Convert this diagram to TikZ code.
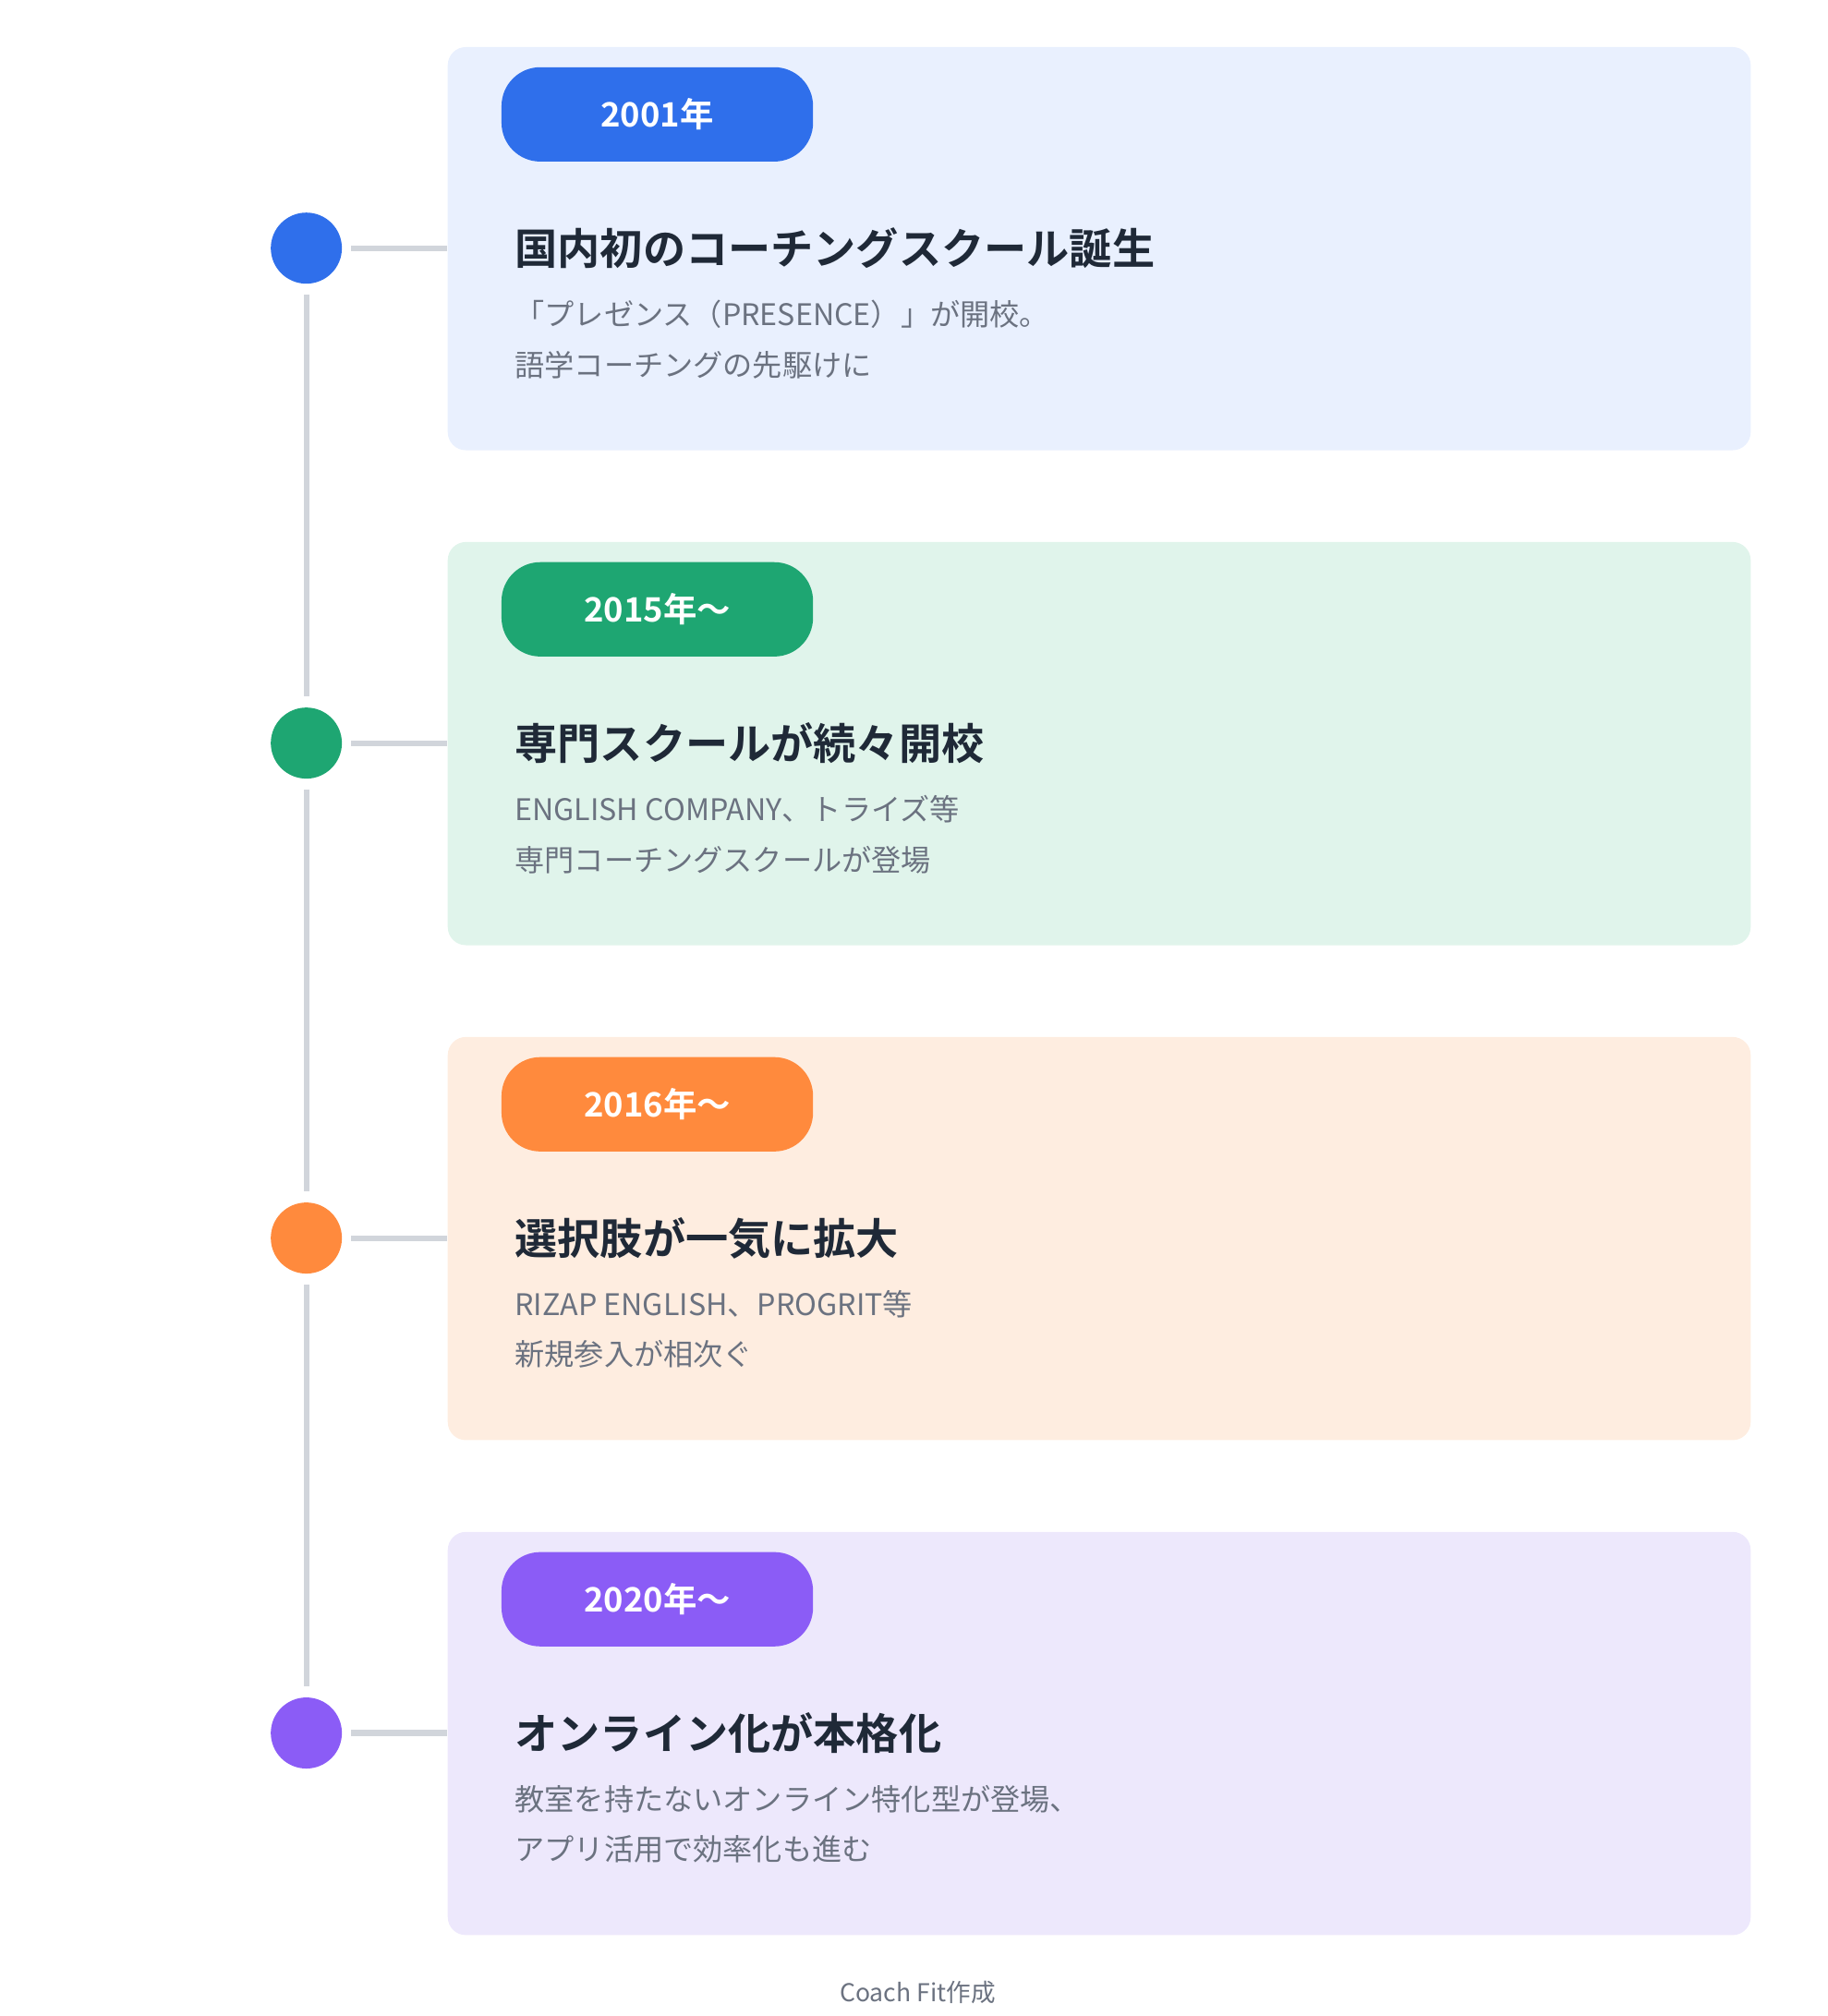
\documentclass[tikz,border=0pt]{standalone}
\usepackage{fontspec}
\setmainfont{Noto Sans CJK JP}[BoldFont={* Bold}]
\usetikzlibrary{positioning}
\definecolor{lineg}{HTML}{D1D5DB}
\definecolor{titlec}{HTML}{1F2937}
\definecolor{descc}{HTML}{6B7280}
\definecolor{cA}{HTML}{2F6FEB}\definecolor{bA}{HTML}{E9F0FE}
\definecolor{cB}{HTML}{1EA672}\definecolor{bB}{HTML}{E0F4EB}
\definecolor{cC}{HTML}{FF8A3D}\definecolor{bC}{HTML}{FEEDE0}
\definecolor{cD}{HTML}{8B5CF6}\definecolor{bD}{HTML}{EDE8FC}
\tikzset{
  card/.style={rounded corners=7pt, minimum width=504pt, minimum height=156pt, inner sep=0pt, anchor=north west},
  pill/.style={rounded corners=15pt, minimum width=120.5pt, minimum height=36.5pt, inner sep=0pt, text=white, font=\bfseries\fontsize{13}{15}\selectfont},
  dot/.style={circle, minimum size=27.5pt, inner sep=0pt},
  ttl/.style={anchor=west, inner sep=0pt, text=titlec, font=\bfseries\fontsize{16.5}{20}\selectfont},
  desc/.style={anchor=north west, inner sep=0pt, align=left, text=descc, font=\fontsize{11.5}{19.5}\selectfont},
  link/.style={lineg, line width=2.2pt}
}
\begin{document}
\begin{tikzpicture}[x=0.5pt, y=-0.5pt]
\useasboundingbox (0,0) rectangle (1414,1560);
\foreach \i/\c/\b/\yr/\t/\da/\db in {
  0/cA/bA/2001年/国内初のコーチングスクール誕生/「プレゼンス（PRESENCE）」が開校。/語学コーチングの先駆けに,
  1/cB/bB/2015年〜/専門スクールが続々開校/ENGLISH COMPANY、トライズ等/専門コーチングスクールが登場,
  2/cC/bC/2016年〜/選択肢が一気に拡大/RIZAP ENGLISH、PROGRIT等/新規参入が相次ぐ,
  3/cD/bD/2020年〜/オンライン化が本格化/教室を持たないオンライン特化型が登場、/アプリ活用で効率化も進む}{
  \pgfmathsetmacro{\y}{383*\i}
  \node[card, fill=\b] (card\i) at (346,36+\y) {};
  \node[pill, fill=\c] (pill\i) at (508.5,88.5+\y) {\yr};
  \node[dot, fill=\c] (dot\i) at (237,192+\y) {};
  \node[ttl] (title\i) at (398,192+\y) {\t};
  \node[desc] (desc\i) at (398,232+\y) {\da\\\db};
  \draw[link, shorten <=3.5pt] (dot\i.east) -- (card\i.west |- dot\i);
}
\foreach \i/\j in {0/1,1/2,2/3}
  \draw[link, shorten <=4pt, shorten >=4pt] (dot\i.south) -- (dot\j.north);
\node[text=descc, font=\fontsize{9.5}{11}\selectfont] (credit) at (710,1542) {Coach Fit作成};
\end{tikzpicture}
\end{document}
